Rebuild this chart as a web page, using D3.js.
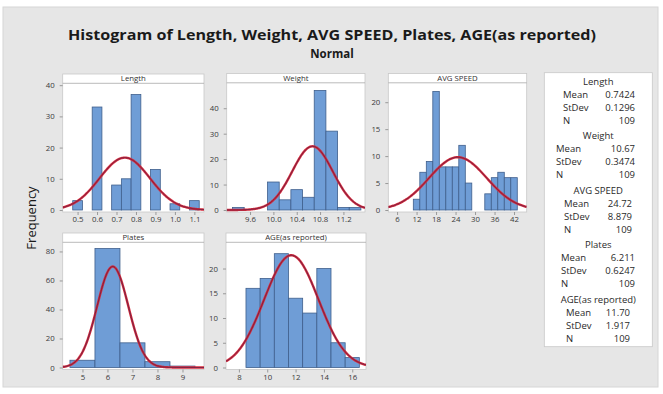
<!DOCTYPE html>
<html><head><meta charset="utf-8">
<script src="https://cdn.jsdelivr.net/npm/d3@7"></script>
<style>body{margin:0;background:#fff;}svg{display:block;font-family:"Open Sans","Noto Sans",sans-serif;}</style>
</head><body><svg id="c" width="663" height="394"></svg>
<script>
// ---- data ----
const variables = ["Length", "Weight", "AVG SPEED", "Plates", "AGE(as reported)"];
const lengthMids   = [0.5,0.55,0.6,0.65,0.7,0.75,0.8,0.85,0.9,0.95,1.0,1.05,1.1];
const lengthCounts = [3,0,33,0,8,10,37,0,13,0,2,0,3];
const weightMids   = [9.4,9.6,9.8,10.0,10.2,10.4,10.6,10.8,11.0,11.2,11.4];
const weightCounts = [1,0,0,11,4,8,5,47,31,1,1];
const speedMids    = [12,14,16,18,20,22,24,26,28,30,32,34,36,38,40,42];
const speedCounts  = [2,7,9,22,8,8,8,12,5,0,0,3,6,7,6,6];
const platesMids   = [5,6,7,8,9];
const platesCounts = [5,82,17,4,1];
const ageMids      = [9,10,11,12,13,14,15,16];
const ageCounts    = [16,18,23,14,11,20,5,2];
const means  = [0.7424, 10.67, 24.72, 6.211, 11.70];
const meanLabels = ["0.7424","10.67","24.72","6.211","11.70"];
const stdevs = [0.1296, 0.3474, 8.879, 0.6247, 1.917];
const stdevLabels = ["0.1296","0.3474","8.879","0.6247","1.917"];
const ns = [109,109,109,109,109];
const lengthTicks = [0.5,0.6,0.7,0.8,0.9,1.0,1.1];
const weightTicks = [9.6,10.0,10.4,10.8,11.2];
const speedTicks  = [6,12,18,24,30,36,42];
const platesTicks = [5,6,7,8,9];
const ageTicks    = [8,10,12,14,16];
const lengthYTicks = [0,10,20,30,40];
const weightYTicks = [0,10,20,30,40];
const speedYTicks  = [0,5,10,15,20];
const platesYTicks = [0,20,40,60,80];
const ageYTicks    = [0,5,10,15,20];
const title = "Histogram of Length, Weight, AVG SPEED, Plates, AGE(as reported)";
const subtitle = "Normal";

// ---- layout ----
const panels = [
  {mids:lengthMids, counts:lengthCounts, xt:lengthTicks, yt:lengthYTicks, fmt:d3.format(".1f"), xd:[0.4235,1.1495], ymax:40.6, l:62.7, r:204, t:74, y0:210},
  {mids:weightMids, counts:weightCounts, xt:weightTicks, yt:weightYTicks, fmt:d3.format(".1f"), xd:[9.2,11.57], ymax:50, l:226.7, r:365, t:73.5, y0:210},
  {mids:speedMids, counts:speedCounts, xt:speedTicks, yt:speedYTicks, fmt:d3.format("d"), xd:[3.3,45.9], ymax:23.6, l:388.3, r:526.7, t:73.5, y0:210},
  {mids:platesMids, counts:platesCounts, xt:platesTicks, yt:platesYTicks, fmt:d3.format("d"), xd:[4.21,9.86], ymax:86.3, l:62.7, r:204, t:233, y0:367.5},
  {mids:ageMids, counts:ageCounts, xt:ageTicks, yt:ageYTicks, fmt:d3.format("d"), xd:[7.09,16.97], ymax:25.3, l:226, r:366, t:233, y0:367.5}
];
const headerH = 9.3;

const svg = d3.select("#c");
svg.append("rect").attr("x",3).attr("y",7).attr("width",655).attr("height",380)
  .attr("fill","#e6e6e6").attr("stroke","#d6d6d6");

svg.append("text").attr("x",332).attr("y",40).attr("text-anchor","middle")
  .attr("font-size",14.8).attr("font-weight","bold").attr("fill","#1a1a1a")
  .attr("textLength",528).attr("lengthAdjust","spacingAndGlyphs").text(title);
svg.append("text").attr("x",332).attr("y",57.5).attr("text-anchor","middle")
  .attr("font-size",11.5).attr("font-weight","bold").attr("fill","#1a1a1a").text(subtitle);

svg.append("text").attr("transform","translate(36,218) rotate(-90)").attr("text-anchor","middle")
  .attr("font-size",13).attr("fill","#1a1a1a").text("Frequency");

const line = d3.line();
panels.forEach((p,i)=>{
  const g = svg.append("g");
  const top = p.t + headerH;
  const bottom = p.y0 + 2;
  const x = d3.scaleLinear().domain(p.xd).range([p.l,p.r]);
  const y = d3.scaleLinear().domain([0,p.ymax]).range([p.y0, top]);
  const bw = p.mids[1]-p.mids[0];
  // frame
  g.append("rect").attr("x",p.l).attr("y",p.t).attr("width",p.r-p.l).attr("height",bottom-p.t)
    .attr("fill","#fff").attr("stroke","#c8c8c8").attr("stroke-width",0.8);
  g.append("line").attr("x1",p.l).attr("x2",p.r).attr("y1",top).attr("y2",top)
    .attr("stroke","#a8a8a8").attr("stroke-width",0.8);
  g.append("text").attr("x",(p.l+p.r)/2).attr("y",p.t+7.3).attr("text-anchor","middle")
    .attr("font-size",7.8).attr("fill","#333").text(variables[i]);
  const clipId = "clip"+i;
  svg.append("clipPath").attr("id",clipId).append("rect")
    .attr("x",p.l).attr("y",top).attr("width",p.r-p.l).attr("height",bottom-top);
  const inner = g.append("g").attr("clip-path",`url(#${clipId})`);
  // bars
  inner.selectAll("rect.bar").data(p.mids.map((m,j)=>({m,c:p.counts[j]})).filter(d=>d.c>0))
    .enter().append("rect").attr("class","bar")
    .attr("x",d=>x(d.m-bw/2)).attr("width",d=>x(d.m+bw/2)-x(d.m-bw/2))
    .attr("y",d=>y(d.c)).attr("height",d=>y(0)-y(d.c))
    .attr("fill","#6f9dd6").attr("stroke","#3f5f8c").attr("stroke-width",0.8);
  // normal fit
  const mu = means[i], sd = stdevs[i], n = ns[i];
  const pts = d3.range(0,201).map(k=>{
    const xv = p.xd[0] + (p.xd[1]-p.xd[0])*k/200;
    const dv = n*bw*Math.exp(-0.5*((xv-mu)/sd)**2)/(sd*Math.sqrt(2*Math.PI));
    return [x(xv), y(dv)];
  });
  inner.append("path").attr("d",line(pts)).attr("fill","none").attr("stroke","#d82c3c").attr("stroke-width",2.4);
  inner.append("path").attr("d",line(pts)).attr("fill","none").attr("stroke","#5a1f48").attr("stroke-width",0.8);
  // axes
  const xa = g.append("g").attr("transform",`translate(0,${bottom})`)
    .call(d3.axisBottom(x).tickValues(p.xt).tickFormat(p.fmt).tickSize(3).tickPadding(1.5));
  const ya = g.append("g").attr("transform",`translate(${p.l},0)`)
    .call(d3.axisLeft(y).tickValues(p.yt).tickSize(3).tickPadding(5));
  [xa,ya].forEach(a=>{
    a.select(".domain").remove();
    a.selectAll("line").attr("stroke","#999");
    a.selectAll("text").attr("font-size",7.8).attr("fill","#3a3a3a").attr("font-family","'Open Sans','Noto Sans',sans-serif");
  });
});

// legend
const lx0 = 544.3, lx1 = 652.3;
svg.append("rect").attr("x",lx0).attr("y",72.7).attr("width",lx1-lx0).attr("height",274)
  .attr("fill","#fff").attr("stroke","#c8c8c8").attr("stroke-width",0.8);
const labX = [563,556,564,561,566];
const valR = [635,635,632,635,630];
const lg = svg.append("g").attr("font-size",9.5).attr("fill","#2a2a2a");
variables.forEach((v,i)=>{
  const gy = 84.5 + i*54.5;
  lg.append("text").attr("x",(lx0+lx1)/2).attr("y",gy).attr("text-anchor","middle").text(v);
  const rows = [["Mean",meanLabels[i]],["StDev",stdevLabels[i]],["N",String(ns[i])]];
  rows.forEach((r,k)=>{
    const ry = gy + 13*(k+1);
    lg.append("text").attr("x",labX[i]).attr("y",ry).text(r[0]);
    lg.append("text").attr("x",valR[i]).attr("y",ry).attr("text-anchor","end").text(r[1]);
  });
});
</script></body></html>
